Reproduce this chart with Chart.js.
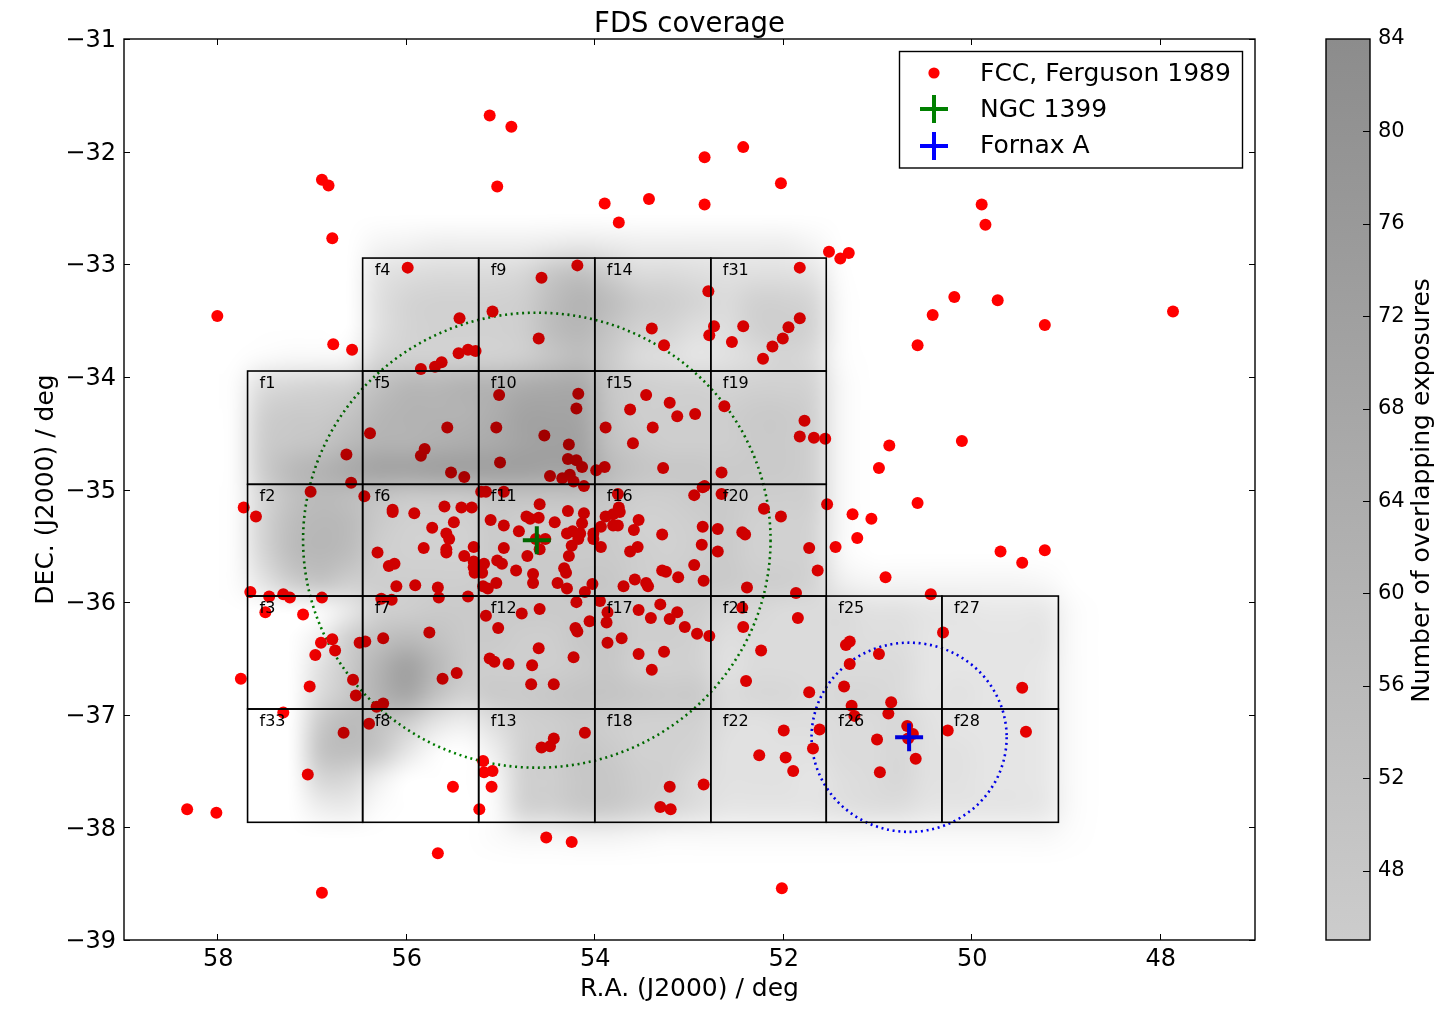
<!DOCTYPE html>
<html><head><meta charset="utf-8">
<script src="https://cdn.jsdelivr.net/npm/chart.js@4/dist/chart.umd.min.js"></script>
<style>html,body{margin:0;padding:0;background:#fff;overflow:hidden}canvas{position:absolute;top:0}</style>
</head><body>
<canvas id="main" width="1300" height="1023" style="left:0"></canvas>
<canvas id="bar" width="148" height="1023" style="left:1300px"></canvas>
<script>
const titleText = 'FDS coverage';
const xLabel = 'R.A. (J2000) / deg';
const yLabel = 'DEC. (J2000) / deg';
const barLabel = 'Number of overlapping exposures';
const xTicks = [58,56,54,52,50,48];
const yTicks = [-31,-32,-33,-34,-35,-36,-37,-38,-39];
const barTicks = [48,52,56,60,64,68,72,76,80,84];
const barRange = [45,84];
const ngc1399 = [[54.62,-35.45]];
const fornaxA = [[50.67,-37.20]];
const seriesNames = ['FCC, Ferguson 1989','NGC 1399','Fornax A'];
const fccRA = [
55.12,54.89,52.84,52.43,52.03,56.90,56.83,55.04,53.90,53.43,52.84,53.75,56.79,49.90,49.86,51.52,51.40,51.31,47.87,50.19,49.73,50.42,49.23,50.58,58.01,56.78,56.58,50.11,50.88,50.99,50.58,57.73,57.60,51.27,51.07,51.22,51.45,50.92,49.70,49.47,49.23,50.44,57.76,58.33,58.02,57.05,56.90,55.51,55.67,54.52,54.25,52.02,49.47,49.43,50.31,
55.99,54.19,54.57,55.44,55.09,54.60,55.45,55.35,55.27,55.63,55.70,55.85,55.02,54.18,54.20,56.39,55.57,55.05,54.54,53.89,55.81,55.85,56.64,54.28,55.01,54.29,54.20,54.14,53.99,53.90,55.53,55.39,54.48,54.35,54.27,54.23,54.12,56.59,57.02,56.45,55.21,55.16,54.97,
55.60,55.42,55.31,56.15,56.15,55.92,54.59,54.29,54.12,54.73,54.69,54.60,55.11,54.97,54.43,54.14,55.50,55.73,55.58,55.55,54.81,54.30,54.24,54.16,54.18,54.02,54.02,53.94,53.89,54.53,54.63,54.59,55.82,55.58,55.58,55.29,54.97,54.25,53.94,56.31,55.39,54.72,54.28,56.13,56.19,55.29,55.29,55.18,55.24,55.20,55.28,55.04,54.99,54.84,54.66,54.66,54.33,54.31,54.40,54.30,54.03,54.11,55.05,55.19,55.14,56.11,55.91,55.67,55.66,55.35,57.66,57.46,57.31,57.24,56.90,56.27,56.16,57.50,57.10,55.16,54.78,54.59,54.20,53.95,53.87,55.03,54.06,53.88,55.76,54.21,54.19,56.25,56.50,56.44,56.79,56.91,56.76,56.97,54.60,55.12,55.07,54.92,54.67,54.23,53.87,55.47,55.62,57.03,56.57,56.54,54.68,54.44,56.25,56.32,57.31,56.40,56.67,54.44,54.48,54.57,54.11,55.19,55.18,55.09,55.10,55.23,
53.76,52.95,52.84,52.86,52.66,53.75,52.21,53.81,53.74,53.54,53.81,53.76,53.59,53.29,52.86,52.70,52.44,52.41,53.55,53.63,52.87,52.70,52.95,53.29,53.25,53.12,53.58,53.70,53.46,53.44,52.85,52.39,53.54,53.31,53.13,53.21,53.41,53.05,52.92,52.79,52.44,52.43,52.24,52.40,53.72,53.54,53.27,53.40,52.85,53.21,53.31,53.20,52.26,
51.83,52.80,53.40,52.74,52.79,52.43,52.55,51.83,51.95,52.01,52.12,52.22,53.27,53.46,53.63,53.21,53.13,52.94,52.63,53.39,53.60,51.78,51.83,51.68,51.56,53.28,52.66,51.54,52.03,51.73,51.64,51.87,51.85,
51.73,51.30,51.34,51.30,50.99,51.36,51.28,51.25,50.86,50.89,51.62,52.00,51.69,51.98,51.90,51.01,50.98,50.69,50.63,50.68,50.60,50.26];
const fccDec = [
-31.68,-31.78,-32.05,-31.96,-32.28,-32.25,-32.30,-32.31,-32.46,-32.42,-32.47,-32.63,-32.77,-32.47,-32.65,-32.89,-32.95,-32.90,-33.42,-33.29,-33.32,-33.45,-33.54,-33.72,-33.46,-33.71,-33.76,-34.57,-34.61,-34.81,-35.12,-35.16,-35.24,-35.22,-35.26,-35.43,-35.51,-35.78,-35.55,-35.65,-35.54,-35.93,-36.68,-37.84,-37.87,-37.53,-38.58,-37.64,-38.23,-38.09,-38.13,-38.54,-36.76,-37.15,-36.27,
-33.03,-33.01,-33.12,-33.48,-33.42,-33.66,-33.79,-33.76,-33.77,-33.87,-33.91,-33.93,-34.16,-34.15,-34.28,-34.50,-34.45,-34.45,-34.52,-34.45,-34.64,-34.70,-34.69,-34.60,-34.76,-34.73,-34.74,-34.80,-34.83,-34.80,-34.85,-34.89,-34.88,-34.90,-34.87,-34.93,-34.97,-34.94,-35.02,-35.06,-35.02,-35.02,-35.02,
-35.15,-35.16,-35.16,-35.18,-35.20,-35.21,-35.13,-35.19,-35.21,-35.24,-35.26,-35.25,-35.27,-35.32,-35.29,-35.30,-35.29,-35.34,-35.39,-35.44,-35.37,-35.39,-35.37,-35.39,-35.44,-35.39,-35.44,-35.33,-35.24,-35.44,-35.44,-35.53,-35.52,-35.53,-35.56,-35.51,-35.52,-35.50,-35.51,-35.56,-35.59,-35.59,-35.59,-35.66,-35.68,-35.64,-35.69,-35.66,-35.71,-35.74,-35.74,-35.63,-35.66,-35.72,-35.75,-35.83,-35.70,-35.74,-35.83,-35.88,-35.84,-35.91,-35.83,-35.86,-35.88,-35.86,-35.85,-35.87,-35.96,-35.95,-35.91,-35.95,-35.93,-35.96,-35.96,-35.97,-35.98,-36.09,-36.11,-36.12,-36.10,-36.06,-36.00,-35.99,-36.09,-36.23,-36.17,-36.18,-36.27,-36.23,-36.26,-36.32,-36.36,-36.35,-36.33,-36.36,-36.43,-36.47,-36.41,-36.50,-36.53,-36.55,-36.56,-36.49,-36.36,-36.63,-36.68,-36.75,-36.69,-36.83,-36.73,-36.73,-36.90,-36.93,-36.98,-37.08,-37.16,-37.21,-37.28,-37.29,-37.16,-37.41,-37.51,-37.50,-37.64,-37.84,
-35.04,-35.05,-34.97,-34.98,-35.04,-35.16,-35.17,-35.22,-35.20,-35.27,-35.32,-35.32,-35.36,-35.40,-35.33,-35.35,-35.38,-35.40,-35.51,-35.55,-35.49,-35.55,-35.67,-35.72,-35.73,-35.78,-35.80,-35.86,-35.83,-35.86,-35.81,-35.87,-36.07,-36.02,-36.09,-36.15,-36.14,-36.22,-36.28,-36.30,-36.05,-36.22,-36.43,-36.70,-36.32,-36.46,-36.44,-36.60,-37.62,-37.64,-37.82,-37.84,-37.36,
-33.03,-33.24,-33.57,-33.55,-33.63,-33.55,-33.69,-33.48,-33.56,-33.66,-33.73,-33.84,-33.72,-34.16,-34.29,-34.23,-34.35,-34.33,-34.26,-34.45,-34.59,-34.39,-34.53,-34.54,-34.55,-34.81,-34.85,-35.13,-35.24,-35.52,-35.72,-35.92,-36.14,
-36.80,-36.35,-36.38,-36.55,-36.46,-36.75,-36.92,-37.01,-36.89,-36.99,-37.13,-37.14,-37.30,-37.38,-37.50,-37.22,-37.51,-37.10,-37.17,-37.21,-37.39,-37.14];
const tileNames = ['f1','f2','f3','f33','f4','f5','f6','f7','f8','f9','f10','f11','f12','f13','f14','f15','f16','f17','f18','f31','f19','f20','f21','f22','f25','f26','f27','f28'];
const tileCols = [0,0,0,0,1,1,1,1,1,2,2,2,2,2,3,3,3,3,3,4,4,4,4,4,5,5,6,6];
const tileRows = [1,2,3,4,0,1,2,3,4,0,1,2,3,4,0,1,2,3,4,0,1,2,3,4,3,4,3,4];
const tileRA = [57.689,56.468,55.237,54.005,52.774,51.549,50.322,49.086];
const tileDec = [-32.945,-33.948,-34.954,-35.946,-36.949,-37.955];
const circleCentre = [[54.62,-35.45],[50.67,-37.20]];
const circleRadii = [[2.48,2.02],[1.035,0.84]];
const circleColours = ['#008000','#0000ff'];
const heatRAEdges = [57.997,48.459];
const heatDecEdges = [-32.45,-38.45];
const exposures = [
[0,0,0,0,0,0,0,0,0,0,0,0,0,0,0,0,0,0,0,0,0,0,0,0,0,0,0,0,0,0,0],
[0,0,0,0,0,20,22,24,24,24,24,26,28,26,24,24,24,24,24,24,20,0,0,0,0,0,0,0,0,0,0],
[0,0,0,0,8,30,34,36,36,36,38,48,52,44,36,36,34,32,33,33,30,15,0,0,0,0,0,0,0,0,0],
[0,0,0,0,8,32,40,42,42,42,44,54,60,54,46,44,40,36,42,42,38,16,0,0,0,0,0,0,0,0,0],
[0,0,0,0,8,32,40,42,42,42,44,54,58,50,42,40,34,34,42,44,40,16,0,0,0,0,0,0,0,0,0],
[0,16,18,18,20,38,42,42,42,42,44,50,54,46,36,34,30,32,36,40,36,16,0,0,0,0,0,0,0,0,0],
[15,34,38,40,42,52,58,58,60,60,64,66,66,48,44,42,42,40,42,42,40,18,0,0,0,0,0,0,0,0,0],
[15,42,46,46,50,58,60,60,60,64,70,70,68,50,44,44,44,44,46,46,42,18,0,0,0,0,0,0,0,0,0],
[15,44,48,50,56,60,60,62,64,66,70,72,70,52,46,44,44,44,46,46,42,18,0,0,0,0,0,0,0,0,0],
[15,44,56,60,66,70,70,72,72,72,72,70,70,56,50,48,48,46,46,46,42,18,0,0,0,0,0,0,0,0,0],
[15,38,52,56,54,50,46,46,46,50,50,50,50,48,44,44,46,46,44,44,42,18,0,0,0,0,0,0,0,0,0],
[15,40,54,58,56,46,42,42,42,46,44,44,46,46,42,42,44,46,42,42,40,18,0,0,0,0,0,0,0,0,0],
[15,38,54,58,54,44,42,42,42,46,46,46,46,46,44,42,44,46,42,42,40,18,0,0,0,0,0,0,0,0,0],
[15,30,44,50,44,44,44,44,44,46,46,46,48,48,44,44,46,46,44,44,40,24,20,20,20,20,20,20,18,0,0],
[0,0,4,16,28,42,44,46,46,46,46,46,46,46,44,44,44,38,38,36,36,36,32,32,30,30,28,28,28,16,0],
[0,0,6,24,44,52,56,52,46,46,44,44,48,48,44,44,42,34,36,36,36,36,34,34,30,30,30,30,30,16,0],
[0,0,10,32,46,60,72,58,46,44,44,44,46,48,42,42,42,32,36,36,36,36,36,36,30,30,30,30,28,16,0],
[0,0,14,36,48,60,68,52,42,46,46,48,50,50,48,46,46,36,38,38,36,38,38,36,30,32,30,30,28,16,0],
[0,0,14,46,56,52,44,30,24,34,42,44,46,44,42,42,42,34,32,34,34,36,36,38,32,30,30,30,28,16,0],
[0,0,12,50,54,48,30,16,14,24,42,44,48,46,42,42,40,32,32,32,32,36,36,38,32,32,30,30,28,16,0],
[0,0,12,38,38,24,14,0,0,18,42,44,48,48,44,42,36,32,32,32,30,34,36,38,32,32,30,30,28,16,0],
[0,0,8,24,26,16,4,0,0,16,40,42,46,46,42,38,34,30,30,30,30,32,34,34,30,30,30,30,28,16,0],
[0,0,0,0,0,0,0,0,0,16,20,20,22,22,20,18,18,18,18,18,18,18,18,18,18,18,18,18,18,15,0],
[0,0,0,0,0,0,0,0,0,0,0,0,0,0,0,0,0,0,0,0,0,0,0,0,0,0,0,0,0,0,0]];

const FONT = '"DejaVu Sans"';
Chart.defaults.font.family = FONT;
Chart.defaults.color = '#000';
Chart.defaults.animation = false;
const alphaOf = v => Math.max(0, 0.2 + (v - 45) * 0.25 / 39);

const overlay = {
  id:'overlay',
  beforeDatasetsDraw(chart){
    const {ctx, scales:{x,y}} = chart;
    ctx.save();
    const a = chart.chartArea;
    ctx.beginPath(); ctx.rect(a.left,a.top,a.width,a.height); ctx.clip();
    circleCentre.forEach((c,i)=>{
      const cx=x.getPixelForValue(c[0]), cy=y.getPixelForValue(c[1]);
      const rx=Math.abs(x.getPixelForValue(c[0]+circleRadii[i][0])-cx);
      const ry=Math.abs(y.getPixelForValue(c[1]+circleRadii[i][1])-cy);
      ctx.beginPath(); ctx.ellipse(cx,cy,rx,ry,0,0,Math.PI*2);
      ctx.strokeStyle=circleColours[i]; ctx.lineWidth=2.6; ctx.setLineDash([2,3.7]); ctx.stroke();
    });
    ctx.restore();
  },
  afterDatasetsDraw(chart){
    const {ctx, scales:{x,y}, chartArea:a} = chart;
    const rows=exposures.length, cols=exposures[0].length;
    const off=document.createElement('canvas'); off.width=cols; off.height=rows;
    const oc=off.getContext('2d'); const img=oc.createImageData(cols,rows);
    exposures.forEach((row,j)=>row.forEach((v,i)=>{img.data[(j*cols+i)*4+3]=Math.round(alphaOf(v)*255);}));
    oc.putImageData(img,0,0);
    const x0=x.getPixelForValue(heatRAEdges[0]), x1=x.getPixelForValue(heatRAEdges[1]);
    const y0=y.getPixelForValue(heatDecEdges[0]), y1=y.getPixelForValue(heatDecEdges[1]);
    ctx.save();
    ctx.imageSmoothingEnabled=true; ctx.imageSmoothingQuality='high';
    ctx.drawImage(off,x0,y0,x1-x0,y1-y0);
    ctx.strokeStyle='#000'; ctx.lineWidth=1.6; ctx.fillStyle='#000';
    ctx.font='16px '+FONT; ctx.textAlign='left'; ctx.textBaseline='alphabetic';
    tileNames.forEach((n,i)=>{
      const l=x.getPixelForValue(tileRA[tileCols[i]]), r=x.getPixelForValue(tileRA[tileCols[i]+1]);
      const t=y.getPixelForValue(tileDec[tileRows[i]]), b=y.getPixelForValue(tileDec[tileRows[i]+1]);
      ctx.strokeRect(l,t,r-l,b-t);
    });
    tileNames.forEach((n,i)=>{
      const l=x.getPixelForValue(tileRA[tileCols[i]]);
      const t=y.getPixelForValue(tileDec[tileRows[i]]);
      ctx.fillText(n,l+12,t+17);
    });
    ctx.lineWidth=1;
    ctx.beginPath();
    xTicks.forEach(v=>{const p=Math.round(x.getPixelForValue(v))-.5;
      ctx.moveTo(p,a.bottom);ctx.lineTo(p,a.bottom-6);ctx.moveTo(p,a.top);ctx.lineTo(p,a.top+6);});
    yTicks.forEach(v=>{const p=Math.round(y.getPixelForValue(v))+.5;
      ctx.moveTo(a.left,p);ctx.lineTo(a.left+6,p);ctx.moveTo(a.right,p);ctx.lineTo(a.right-6,p);});
    ctx.stroke();
    ctx.lineWidth=1.4; ctx.strokeRect(a.left,a.top,a.width,a.height);
    const lx=899.5, ly=51.5, lw=343, lh=116.5;
    ctx.fillStyle='#fff'; ctx.fillRect(lx,ly,lw,lh); ctx.strokeStyle='#000'; ctx.lineWidth=1.4; ctx.strokeRect(lx,ly,lw,lh);
    const rowsY=[73,109,146], baseY=[81,117,153], mx=934;
    ctx.fillStyle='#f00'; ctx.beginPath(); ctx.arc(mx,rowsY[0],5.6,0,Math.PI*2); ctx.fill();
    ['#008000','#0000ff'].forEach((c,i)=>{
      const yy=rowsY[i+1]; ctx.strokeStyle=c; ctx.lineWidth=4; ctx.beginPath();
      ctx.moveTo(mx-14,yy);ctx.lineTo(mx+14,yy);ctx.moveTo(mx,yy-14);ctx.lineTo(mx,yy+14);ctx.stroke();
    });
    ctx.fillStyle='#000'; ctx.font='25px '+FONT; ctx.textBaseline='alphabetic'; ctx.textAlign='left';
    seriesNames.forEach((n,i)=>ctx.fillText(n,980,baseY[i]));
    ctx.restore();
  }
};

new Chart(document.getElementById('main'),{
  type:'scatter',
  data:{datasets:[
    {label:seriesNames[0],data:fccRA.map((r,i)=>({x:r,y:fccDec[i]})),pointRadius:6,pointBorderWidth:0,backgroundColor:'#f00',order:3},
    {label:seriesNames[1],data:ngc1399.map(p=>({x:p[0],y:p[1]})),pointStyle:'cross',pointRadius:14,pointBorderWidth:4,borderColor:'#008000',order:2},
    {label:seriesNames[2],data:fornaxA.map(p=>({x:p[0],y:p[1]})),pointStyle:'cross',pointRadius:14,pointBorderWidth:4,borderColor:'#0000ff',order:1}
  ]},
  options:{
    responsive:false,devicePixelRatio:1,animation:false,
    layout:{padding:{left:0,right:45,top:0,bottom:0}},
    plugins:{
      legend:{display:false},tooltip:{enabled:false},
      title:{display:true,text:titleText,fullSize:false,font:{size:27.5,weight:'normal',family:FONT,lineHeight:1.2},color:'#000',padding:{top:8,bottom:-2}}
    },
    scales:{
      x:{type:'linear',reverse:true,min:47,max:59,
        afterBuildTicks:s=>{s.ticks=xTicks.map(v=>({value:v}));},
        afterFit:s=>{s.height=83;},
        grid:{display:false,drawTicks:false},border:{display:false},
        ticks:{font:{size:24},padding:5,maxRotation:0,callback:v=>String(v)},
        title:{display:true,text:xLabel,font:{size:25},color:'#000',padding:{top:19,bottom:19}}},
      y:{type:'linear',min:-39,max:-31,
        afterBuildTicks:s=>{s.ticks=yTicks.map(v=>({value:v}));},
        afterFit:s=>{s.width=124;},
        grid:{display:false,drawTicks:false},border:{display:false},
        ticks:{font:{size:24},padding:8,labelOffset:2,callback:v=>'\u2212'+Math.abs(v)},
        title:{display:true,text:yLabel,font:{size:25},color:'#000',padding:{top:31,bottom:31}}}
    }
  },
  plugins:[overlay]
});

const barDecor = {
  id:'barDecor',
  afterDatasetsDraw(chart){
    const {ctx,chartArea:a,scales:{y}} = chart;
    ctx.save();
    ctx.strokeStyle='#000'; ctx.lineWidth=1;
    ctx.beginPath();
    barTicks.forEach(v=>{const p=Math.round(y.getPixelForValue(v))+.5; if(v<barRange[1]){ctx.moveTo(a.right,p);ctx.lineTo(a.right-7,p);}});
    ctx.stroke();
    ctx.lineWidth=1.4; ctx.strokeRect(a.left,a.top,a.width,a.height);
    ctx.fillStyle='#000'; ctx.font='25px '+FONT; ctx.textAlign='center'; ctx.textBaseline='middle';
    ctx.translate(122,(a.top+a.bottom)/2+1); ctx.rotate(-Math.PI/2);
    ctx.fillText(barLabel,0,0);
    ctx.restore();
  }
};
new Chart(document.getElementById('bar'),{
  type:'bar',
  data:{labels:['exposures'],datasets:[{label:barLabel,data:[barRange],barPercentage:1,categoryPercentage:1,borderWidth:0,
    backgroundColor(c){
      const a=c.chart.chartArea; if(!a) return '#aaa';
      const g=c.chart.ctx.createLinearGradient(0,a.bottom,0,a.top);
      g.addColorStop(0,'rgb(204,204,204)'); g.addColorStop(1,'rgb(140,140,140)'); return g;
    }}]},
  options:{
    responsive:false,devicePixelRatio:1,animation:false,
    layout:{padding:{left:26,right:0,top:39,bottom:83}},
    plugins:{legend:{display:false},tooltip:{enabled:false},title:{display:false}},
    scales:{
      x:{display:false},
      y:{position:'right',min:barRange[0],max:barRange[1],
        afterBuildTicks:s=>{s.ticks=barTicks.map(v=>({value:v}));},
        afterFit:s=>{s.width=78;},
        grid:{display:false,drawTicks:false},border:{display:false},
        ticks:{font:{size:21},padding:8,labelOffset:0}}
    }
  },
  plugins:[barDecor]
});
</script>
</body></html>
